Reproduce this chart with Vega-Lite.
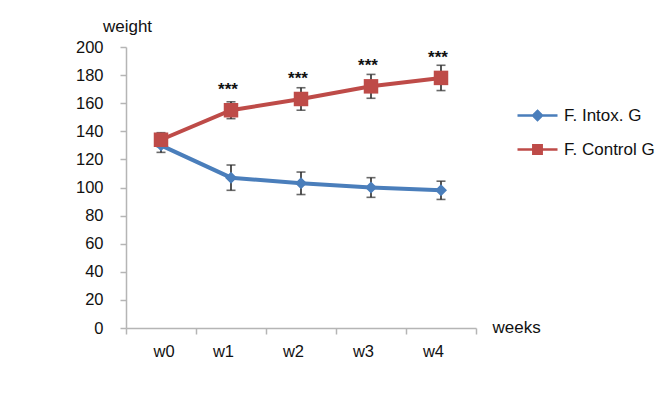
{
  "$schema": "https://vega.github.io/schema/vega-lite/v6.json",
  "autosize": {"type": "none"},
  "width": 350,
  "height": 281,
  "padding": {"left": 126, "top": 47, "right": 187, "bottom": 76},
  "background": "white",
  "config": {
    "view": {"stroke": null},
    "font": "Liberation Sans",
    "axis": {
      "grid": false,
      "domainColor": "#b5b5b5",
      "domainWidth": 1.5,
      "tickColor": "#b5b5b5",
      "tickWidth": 1.5,
      "tickSize": 6,
      "labelFont": "Liberation Sans",
      "labelFontSize": 16.5,
      "labelColor": "#111111",
      "titleFont": "Liberation Sans",
      "titleFontSize": 17,
      "titleFontWeight": "normal",
      "titleColor": "#111111"
    }
  },
  "data": {
    "values": [
      {"week": 0, "group": "F. Intox. G", "mean": 130, "err": 5, "sig": ""},
      {"week": 1, "group": "F. Intox. G", "mean": 107, "err": 9, "sig": ""},
      {"week": 2, "group": "F. Intox. G", "mean": 103, "err": 8, "sig": ""},
      {"week": 3, "group": "F. Intox. G", "mean": 100, "err": 7, "sig": ""},
      {"week": 4, "group": "F. Intox. G", "mean": 98, "err": 6.5, "sig": ""},
      {"week": 0, "group": "F. Control G", "mean": 134, "err": 5, "sig": ""},
      {"week": 1, "group": "F. Control G", "mean": 155, "err": 6, "sig": "***"},
      {"week": 2, "group": "F. Control G", "mean": 163, "err": 8, "sig": "***"},
      {"week": 3, "group": "F. Control G", "mean": 172, "err": 8.5, "sig": "***"},
      {"week": 4, "group": "F. Control G", "mean": 178, "err": 9, "sig": "***"}
    ]
  },
  "encoding": {
    "x": {
      "field": "week",
      "type": "quantitative",
      "scale": {"domain": [-0.5, 4.5], "nice": false, "zero": false},
      "axis": {
        "values": [-0.5, 0.5, 1.5, 2.5, 3.5, 4.5],
        "labelExpr": "datum.value < 4.5 ? 'w' + (datum.value + 0.5) : ''",
        "labelOffset": 27,
        "labelPadding": 9,
        "title": "weeks",
        "titleAlign": "left",
        "titleBaseline": "middle",
        "titleAnchor": "start",
        "titleX": 366,
        "titleY": -1
      }
    },
    "y": {
      "field": "mean",
      "type": "quantitative",
      "scale": {"domain": [0, 200], "nice": false},
      "axis": {
        "values": [0, 20, 40, 60, 80, 100, 120, 140, 160, 180, 200],
        "labelPadding": 17,
        "title": "weight",
        "titleAngle": 0,
        "titleAlign": "center",
        "titleBaseline": "middle",
        "titleX": 1,
        "titleY": -21
      }
    }
  },
  "layer": [
    {
      "mark": {"type": "errorbar", "ticks": {"size": 9, "thickness": 1.6}, "color": "#2b2b2b", "thickness": 1.6},
      "encoding": {
        "yError": {"field": "err"},
        "detail": {"field": "group"}
      }
    },
    {
      "mark": {"type": "line", "strokeWidth": 4},
      "encoding": {
        "color": {
          "field": "group",
          "type": "nominal",
          "scale": {"domain": ["F. Intox. G", "F. Control G"], "range": ["#4a7ebb", "#be4b48"]},
          "legend": {
            "title": null,
            "orient": "none",
            "legendX": 400,
            "legendY": 57,
            "padding": 0,
            "symbolSize": 400,
            "rowPadding": 13,
            "labelOffset": 15,
            "labelFont": "Liberation Sans",
            "labelFontSize": 17,
            "labelColor": "#111111",
            "labelLimit": 200,
            "encode": {
              "symbols": {
                "update": {
                  "shape": {"signal": "datum.value === 'F. Intox. G' ? 'M-2,0H2M0,-0.45L0.45,0L0,0.45L-0.45,0Z' : 'M-2,0H2M-0.42,-0.42H0.42V0.42H-0.42Z'"},
                  "fill": {"scale": "color", "field": "value"},
                  "stroke": {"scale": "color", "field": "value"},
                  "strokeWidth": {"value": 2.5},
                  "opacity": {"value": 1},
                  "fillOpacity": {"value": 1}
                }
              }
            }
          }
        }
      }
    },
    {
      "transform": [{"filter": "datum.group === 'F. Intox. G'"}],
      "mark": {"type": "point", "shape": "diamond", "size": 144, "filled": true, "opacity": 1},
      "encoding": {
        "color": {"field": "group", "type": "nominal"}
      }
    },
    {
      "transform": [{"filter": "datum.group === 'F. Control G'"}],
      "mark": {"type": "point", "shape": "square", "size": 210, "filled": true, "opacity": 1},
      "encoding": {
        "color": {"field": "group", "type": "nominal"}
      }
    },
    {
      "transform": [{"filter": "datum.sig !== ''"}],
      "mark": {"type": "text", "font": "Liberation Sans", "fontSize": 17, "fontWeight": "bold", "baseline": "alphabetic", "dy": -15, "dx": -3, "color": "#111111"},
      "encoding": {
        "text": {"field": "sig"}
      }
    }
  ]
}
